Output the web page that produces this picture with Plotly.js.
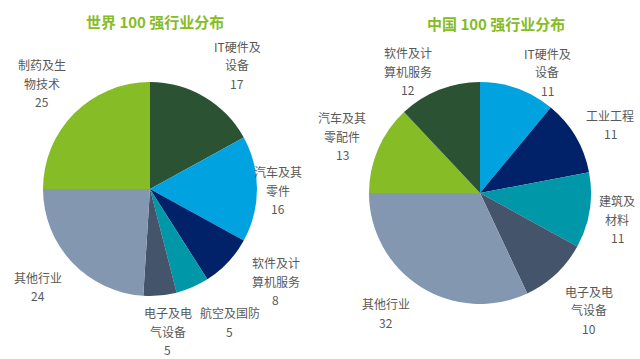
<!DOCTYPE html>
<html>
<head>
<meta charset="utf-8">
<script src="https://cdn.plot.ly/plotly-3.0.1.min.js"></script>
<style>html,body{margin:0;padding:0;background:#fff;}#chart{width:640px;height:359px;}</style>
</head>
<body>
<div id="chart"></div>
<script>
// ---- data ----
const worldTitle = "世界 100 强行业分布";
const worldLabels = ["IT硬件及<br>设备", "汽车及其<br>零件", "软件及计<br>算机服务", "航空及国防", "电子及电<br>气设备", "其他行业", "制药及生<br>物技术"];
const worldValues = [17, 16, 8, 5, 5, 24, 25];
const worldColors = ["#2C5234", "#00A3E0", "#012169", "#0097A9", "#44546A", "#8497B0", "#86BC25"];

const chinaTitle = "中国 100 强行业分布";
const chinaLabels = ["IT硬件及<br>设备", "工业工程", "建筑及<br>材料", "电子及电<br>气设备", "其他行业", "汽车及其<br>零配件", "软件及计<br>算机服务"];
const chinaValues = [11, 11, 11, 10, 32, 13, 12];
const chinaColors = ["#00A3E0", "#012169", "#0097A9", "#44546A", "#8497B0", "#86BC25", "#2C5234"];

// ---- styling: label nudges (px) relative to radial placement ----
const worldNudge = [[12, 3], [-20, 1], [18, -9], [21, -3], [4, -5], [-4, -4], [-3, -1]];
const chinaNudge = [[17, 18], [3, 7], [-9, 3], [8, 9], [-15, -5], [-2, 2], [-18, 16]];

// ---- layout geometry (pixels) ----
const W = 640, H = 359;
const pies = [
  {title: worldTitle, labels: worldLabels, values: worldValues, colors: worldColors, nudge: worldNudge, cx: 150, cy: 189, r: 107, tx: 155, ty: 22},
  {title: chinaTitle, labels: chinaLabels, values: chinaValues, colors: chinaColors, nudge: chinaNudge, cx: 480, cy: 193, r: 111, tx: 496, ty: 23}
];
const labelDist = 148;
const lineH = 18.5;
const labelFont = {family: "Noto Sans CJK SC, sans-serif", size: 12, color: "#595959"};

const traces = [];
const annotations = [];
pies.forEach(p => {
  traces.push({
    type: "pie",
    values: p.values,
    labels: p.labels.map(s => s.replace("<br>", "")),
    marker: {colors: p.colors, line: {width: 0}},
    sort: false,
    direction: "clockwise",
    rotation: 0,
    textinfo: "none",
    hoverinfo: "label+value",
    showlegend: false,
    domain: {x: [(p.cx - p.r) / W, (p.cx + p.r) / W], y: [(H - p.cy - p.r) / H, (H - p.cy + p.r) / H]}
  });
  annotations.push({
    text: "<b>" + p.title + "</b>", showarrow: false, xref: "paper", yref: "paper",
    x: p.tx / W, y: 1 - p.ty / H, xanchor: "center", yanchor: "middle",
    font: {family: "Noto Sans CJK SC, sans-serif", size: 15, color: "#86BC25"}
  });
  const total = p.values.reduce((a, b) => a + b, 0);
  let cum = 0;
  p.values.forEach((v, i) => {
    const mid = (cum + v / 2) / total * 2 * Math.PI;
    cum += v;
    const lx = p.cx + labelDist * Math.sin(mid) + p.nudge[i][0];
    const ly = p.cy - labelDist * Math.cos(mid) + p.nudge[i][1];
    const lines = p.labels[i].split("<br>").concat([String(v)]);
    lines.forEach((t, j) => {
      const py = ly + (j - (lines.length - 1) / 2) * lineH;
      annotations.push({
        text: t, showarrow: false, xref: "paper", yref: "paper",
        x: lx / W, y: 1 - py / H, xanchor: "center", yanchor: "middle",
        font: labelFont
      });
    });
  });
});

Plotly.newPlot("chart", traces, {
  width: W, height: H,
  margin: {l: 0, r: 0, t: 0, b: 0},
  paper_bgcolor: "#ffffff",
  annotations: annotations
}, {displayModeBar: false, staticPlot: true});
</script>
</body>
</html>
